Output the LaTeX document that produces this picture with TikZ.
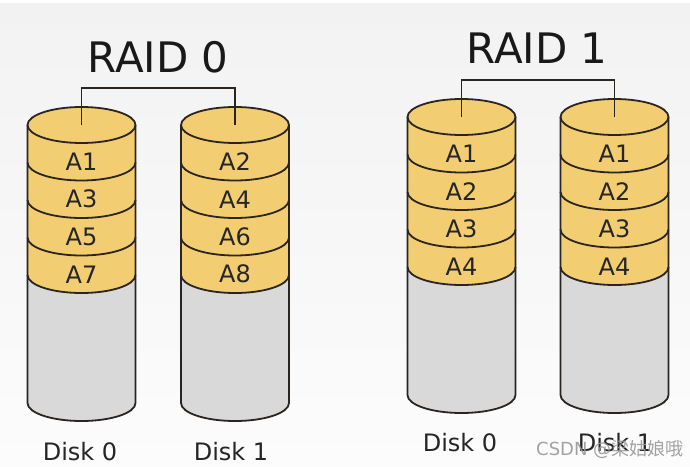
\documentclass[tikz,border=0pt]{standalone}
\usepackage{fontspec}
\setmainfont{DejaVu Sans}
\newfontfamily\cjkfont{Noto Sans CJK SC}
\definecolor{diskyellow}{HTML}{F3CD72}
\definecolor{diskgray}{HTML}{D9D9D9}
\definecolor{diskline}{HTML}{2A2520}
\definecolor{bgtop}{HTML}{F2F2F2}
\definecolor{bgbot}{HTML}{FCFCFC}
\tikzset{
  outline/.style={draw=diskline, line width=1.8pt, line join=round},
  slicelabel/.style={font=\fontsize{24}{24}\selectfont, text=black!85, inner sep=0pt, anchor=center},
  disklabel/.style={font=\fontsize{24}{24}\selectfont, text=black!85, inner sep=0pt, anchor=base},
  titlelabel/.style={font=\fontsize{42}{42}\selectfont, text=black!90, inner sep=0pt, anchor=base},
  bracket/.style={draw=diskline, line width=1.8pt},
}
% #1 name, #2 cx, #3 top ellipse y, #4 bottom ellipse y, #5 label list
\newcommand\drawdisk[5]{%
  \def\rx{54}\def\ry{18}\def\hh{37.5}%
  % gray body
  \fill[diskgray] ({#2-\rx},#3) -- ({#2-\rx},#4) arc[start angle=180,end angle=0,x radius=\rx,y radius=\ry] -- ({#2+\rx},#3) -- cycle;
  % yellow part
  \fill[diskyellow] ({#2-\rx},#3) -- ({#2-\rx},{#3+4*\hh}) arc[start angle=180,end angle=0,x radius=\rx,y radius=\ry] -- ({#2+\rx},#3) arc[start angle=0,end angle=180,x radius=\rx,y radius=\ry] -- cycle;
  \fill[diskyellow] (#2,#3) ellipse[x radius=\rx,y radius=\ry];
  % outlines
  \draw[outline] ({#2-\rx},#3) -- ({#2-\rx},#4) arc[start angle=180,end angle=0,x radius=\rx,y radius=\ry] -- ({#2+\rx},#3);
  \draw[outline] (#2,#3) ellipse[x radius=\rx,y radius=\ry];
  \foreach \k in {1,2,3,4}{%
    \draw[outline] ({#2-\rx},{#3+\k*\hh}) arc[start angle=180,end angle=0,x radius=\rx,y radius=\ry];
  }
  \coordinate (#1top) at (#2,#3);
  \foreach \lab [count=\k] in {#5}{%
    \node[slicelabel] (#1s\k) at (#2,{#3+(\k-0.5)*\hh+\ry}) {\lab};
  }
}
\begin{document}
\begin{tikzpicture}[x=1pt,y=-1pt]
\useasboundingbox (0,0) rectangle (690,466);
\shade[top color=bgtop, bottom color=bgbot] (0,0) rectangle (690,466);
\fill[white] (0,0) rectangle (690,3);

% RAID 0
\drawdisk{ra}{81.5}{125}{403}{A1,A3,A5,A7}
\drawdisk{rb}{235}{125}{403}{A2,A4,A6,A8}
\coordinate (bar0) at (0,88);
\draw[bracket] (ratop) -- (ratop |- bar0) -- (rbtop |- bar0) -- (rbtop);
\node[titlelabel] (title0) at (158,72) {RAID 0};
\node[disklabel] (lab00) at (80,460) {Disk 0};
\node[disklabel] (lab01) at (231,460) {Disk 1};

% RAID 1
\drawdisk{rc}{461.5}{117}{395}{A1,A2,A3,A4}
\drawdisk{rd}{614.5}{117}{395}{A1,A2,A3,A4}
\coordinate (bar1) at (0,80);
\draw[bracket] (rctop) -- (rctop |- bar1) -- (rdtop |- bar1) -- (rdtop);
\node[titlelabel] (title1) at (537,63) {RAID 1};
\node[disklabel] (lab10) at (460,451) {Disk 0};
\node[disklabel] (lab11) at (615,451) {Disk 1};

% watermark
\node[font=\fontsize{18}{18}\selectfont, text=black!40, opacity=0.9, inner sep=0pt, anchor=base west] (wm) at (536,455) {CSDN @{\cjkfont 梁姑娘哦}};
\end{tikzpicture}
\end{document}
